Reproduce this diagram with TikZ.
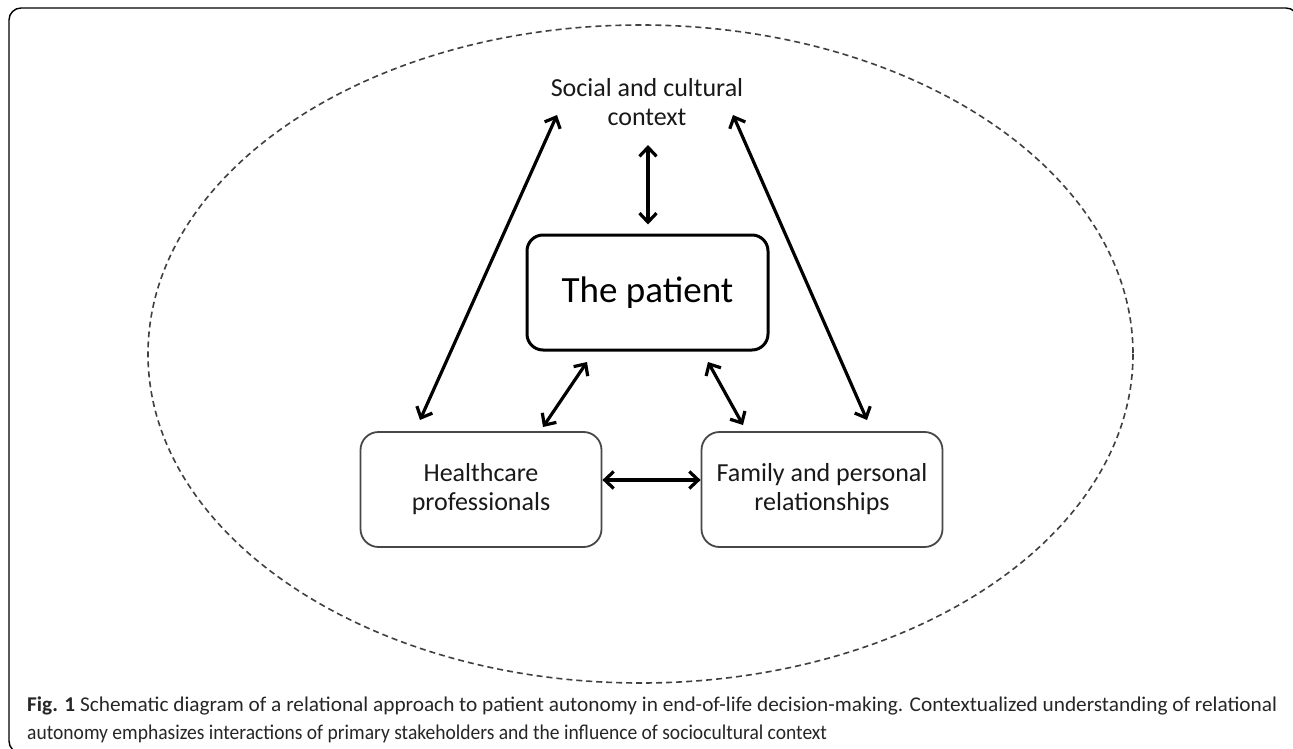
\documentclass[tikz,border=0pt]{standalone}
\usepackage{fontspec}
\setmainfont{Carlito}
\usetikzlibrary{arrows.meta,calc}
\begin{document}
\begin{tikzpicture}[x=1pt,y=-1pt,
  lbl/.style={align=center,font=\fontsize{26}{29}\selectfont,text=black!90,inner sep=0pt},
  mainbox/.style={draw=black,line width=3pt,rounded corners=16pt,minimum width=241pt,minimum height=115pt,font=\fontsize{37}{40}\selectfont,text=black,inner sep=0pt},
  sidebox/.style={draw=black!72,line width=1.8pt,rounded corners=18pt,minimum width=241pt,minimum height=115pt,align=center,font=\fontsize{26}{29}\selectfont,text=black!90,inner sep=0pt},
  link/.style={line width=3.2pt,black,{Straight Barb[length=9pt,width=17pt]}-{Straight Barb[length=9pt,width=17pt]}},
  captxt/.style={anchor=base west,inner sep=0pt,text=black!85,font=\fontsize{21}{24}\selectfont},
]
\useasboundingbox (0,0) rectangle (1293,749);
\fill[white] (0,0) rectangle (1293,749);
\begin{scope}
\clip (0,0) rectangle (1293,749);
\draw[line width=1.4pt,black,rounded corners=12pt] (9,8) rectangle (1298,753);
\end{scope}

% dashed ellipse
\draw[black!75,line width=1.6pt,dash pattern=on 6pt off 4pt] (640.5,354) ellipse [x radius=492.5, y radius=329];

% nodes
\node[lbl] (soc) at (647,102) {Social and cultural\\context};
\node[mainbox] (pat) at (647.5,292.5) {The patient};
\node[sidebox] (hc) at (481,489.5) {Healthcare\\professionals};
\node[sidebox] (fam) at (822,489.5) {Family and personal\\relationships};

% connectors
\draw[link] ($(soc)+(-90,13)$) -- ($(hc)+(-61,-69.5)$);
\draw[link] ($(soc)+(86,13)$) -- ($(fam)+(45,-69.5)$);
\draw[link] ($(soc)+(1,43)$) -- ($(pat.north)+(0.5,-9)$);
\draw[link] ($(pat)+(-60.5,69.5)$) -- ($(hc)+(62,-62.5)$);
\draw[link] ($(pat)+(60.5,69.5)$) -- ($(fam)+(-79,-64.5)$);
\draw[link] ($(hc.east)+(0,-9.5)$) -- ($(fam.west)+(0,-9.5)$);

% caption
\node[captxt] (cap1) at (27,711) {\resizebox{1250pt}{\height}{\textbf{Fig. 1} Schematic diagram of a relational approach to patient autonomy in end-of-life decision-making. Contextualized understanding of relational}};
\node[captxt] (cap2) at (27,739) {\scalebox{0.93}[1]{autonomy emphasizes interactions of primary stakeholders and the influence of sociocultural context}};
\end{tikzpicture}
\end{document}
